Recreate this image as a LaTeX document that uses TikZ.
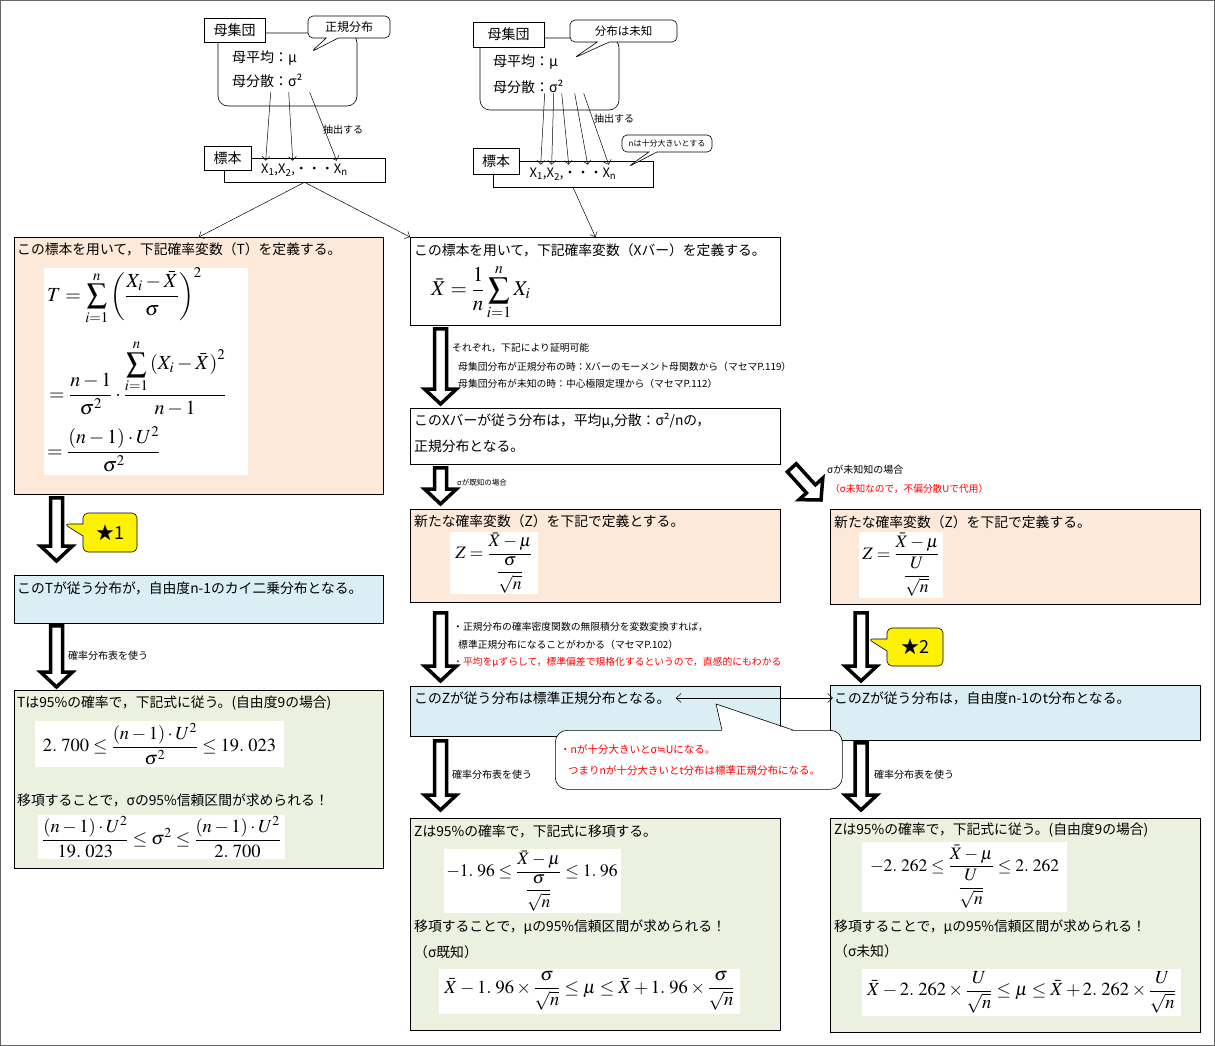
\documentclass[tikz,border=0pt]{standalone}
\usepackage{amsmath}
\usepackage{mathptmx}
\usepackage[no-math]{fontspec}
\setmainfont{Noto Sans CJK JP}
\newfontfamily\symfont{DejaVu Sans}
\usetikzlibrary{calc,arrows.meta,shapes.callouts}

\definecolor{BoxPeach}{HTML}{FDE9D9}
\definecolor{BoxBlue}{HTML}{DAEEF3}
\definecolor{BoxGreen}{HTML}{EBF1DE}
\definecolor{NoteRed}{HTML}{FF0000}
\newcommand{\fsz}[1]{\fontsize{#1}{#1}\selectfont}

\begin{document}
\begin{tikzpicture}[x=1pt,y=-1pt]
\useasboundingbox (0,0) rectangle (1215,1046);
\draw[black!60, line width=0.8pt] (0.5,0.5) rectangle (1214.5,1045.5);

\tikzset{PopStyle/.style = {draw, rounded corners=10pt, line width=0.6pt, align=left,
   inner ysep=0pt, font=\fontsize{14}{24}\selectfont},
 LabelStyle/.style = {draw, fill=white, line width=0.6pt, inner sep=0pt, font=\fsz{14}},
 SampleStyle/.style = {draw, fill=white, line width=0.6pt, inner sep=0pt, font=\fsz{13}},
 SayStyle/.style = {rectangle callout, draw, fill=white, rounded corners=5pt,
   line width=0.6pt, inner sep=0pt, callout pointer width=12pt},
 ThinArrow/.style = {-{Straight Barb[length=4pt,width=8pt]}, line width=0.5pt} }

% population and sample, left
\node[PopStyle, minimum width=139pt, minimum height=73pt, text width=111pt, inner xsep=14pt] (PopL) at (287.5,69.5) {母平均：μ\\母分散：σ²};
\node[SayStyle, minimum width=82pt, minimum height=22pt, font=\fsz{12},
  callout absolute pointer={(311,52)}] (SayL) at (349,27) {正規分布};
\node[LabelStyle, minimum width=61pt, minimum height=24pt] (LabL) at (234.5,30) {母集団};
\node[SampleStyle, minimum width=161pt, minimum height=24pt] (SmpL) at (304.5,170) {X\textsubscript{1},X\textsubscript{2},・・・X\textsubscript{n}};
\node[LabelStyle, minimum width=47pt, minimum height=24pt] (SmpLabL) at (227.5,158) {標本};
\foreach \a/\b in {53/42, 71/69, 92/113}
  \draw[ThinArrow] ($(PopL.south west)+(\a,-14)$) -- ($(SmpL.north west)+(\b,3)$);
\node[anchor=west, inner sep=0pt, font=\fsz{10}] (ExtL) at (323,130) {抽出する};

% population and sample, right
\node[PopStyle, minimum width=139pt, minimum height=72pt, text width=113pt, inner xsep=13pt,
  font=\fontsize{14}{26}\selectfont] (PopR) at (549.5,74) {母平均：μ\\母分散：σ²};
\node[SayStyle, minimum width=107pt, minimum height=22pt, font=\fsz{11.5},
  callout absolute pointer={(574,58)}] (SayR) at (623.5,31) {分布は未知};
\node[LabelStyle, minimum width=71pt, minimum height=25pt] (LabR) at (508.5,34.5) {母集団};
\node[SampleStyle, minimum width=160pt, minimum height=26pt] (SmpR) at (573,174) {X\textsubscript{1},X\textsubscript{2},・・・X\textsubscript{n}};
\node[LabelStyle, minimum width=46pt, minimum height=26pt] (SmpLabR) at (496,161) {標本};
\foreach \a/\b in {65/48, 74/59, 82/76, 95/95, 104/116}
  \draw[ThinArrow] ($(PopR.south west)+(\a,-17)$) -- ($(SmpR.north west)+(\b,4)$);
\node[anchor=west, inner sep=0pt, font=\fsz{10}] (ExtR) at (594,119) {抽出する};
\node[SayStyle, minimum width=90pt, minimum height=17pt, font=\fsz{8}, callout pointer width=8pt,
  callout absolute pointer={(628,167)}] (SayN) at (667,143.5) {nは十分大きいとする};

% boxes
\tikzset{BoxStyle/.style = {draw, line width=0.8pt, anchor=north west, inner sep=0pt},
 TextStyle/.style = {anchor=west, inner sep=0pt, font=\fsz{13.8}},
 NoteStyle/.style = {anchor=west, inner sep=0pt, font=\fsz{9.8}},
 MathStyle/.style = {fill=white, inner sep=0pt, font=\fsz{18.5}} }

\node[BoxStyle, fill=BoxPeach, minimum width=369pt, minimum height=257pt] (BoxT) at (14,237) {};
\node[BoxStyle, fill=BoxBlue, minimum width=369pt, minimum height=48pt] (BoxChi) at (14,575) {};
\node[BoxStyle, fill=BoxGreen, minimum width=369pt, minimum height=178pt] (BoxL95) at (14,690) {};
\node[BoxStyle, fill=white, minimum width=370pt, minimum height=88pt] (BoxX) at (410,237) {};
\node[BoxStyle, fill=white, minimum width=370pt, minimum height=56pt] (BoxXd) at (410,408) {};
\node[BoxStyle, fill=BoxPeach, minimum width=370pt, minimum height=93pt] (BoxZ1) at (410,509) {};
\node[BoxStyle, fill=BoxBlue, minimum width=370pt, minimum height=50pt] (BoxZn) at (410,686) {};
\node[BoxStyle, fill=BoxGreen, minimum width=370pt, minimum height=212pt] (BoxM95) at (410,818) {};
\node[BoxStyle, fill=BoxPeach, minimum width=370pt, minimum height=95pt] (BoxZ2) at (830,509) {};
\node[BoxStyle, fill=BoxBlue, minimum width=370pt, minimum height=55pt] (BoxTd) at (830,685) {};
\node[BoxStyle, fill=BoxGreen, minimum width=370pt, minimum height=214pt] (BoxR95) at (830,818) {};

\draw[ThinArrow] (SmpL.south) -- (BoxT.north);
\draw[ThinArrow] (SmpL.south) -- (BoxX.north west);
\draw[ThinArrow] (SmpR.south) -- (BoxX.north);

% left column
\node[TextStyle] (TT) at (17,249) {この標本を用いて，下記確率変数（T）を定義する。};
\node[MathStyle, minimum width=204pt, minimum height=207pt, anchor=north west] (FTbg) at (44,268) {};
\node[anchor=west, inner sep=0pt, font=\fsz{20}] (FT1) at (47,296) {$\displaystyle T=\sum_{i=1}^{n}\left(\frac{X_i-\bar{X}}{\sigma}\right)^{2}$};
\node[anchor=west, inner sep=0pt, font=\fsz{20}] (FT2) at (49,378) {$\displaystyle =\frac{n-1}{\sigma^{2}}\cdot\frac{\displaystyle\sum_{i=1}^{n}\left(X_i-\bar{X}\right)^{2}}{n-1}$};
\node[anchor=west, inner sep=0pt, font=\fsz{20}] (FT3) at (47,449) {$\displaystyle =\frac{(n-1)\cdot U^{2}}{\sigma^{2}}$};
\node[TextStyle] (TChi) at (17,588) {このTが従う分布が，自由度n-1のカイ二乗分布となる。};
\node[TextStyle] (TL95a) at (17,703) {Tは95\%の確率で，下記式に従う。(自由度9の場合)};
\node[MathStyle, minimum width=249pt, minimum height=46pt] (FL1) at (159.5,744) {$\displaystyle 2.\;700\le\frac{(n-1)\cdot U^{2}}{\sigma^{2}}\le 19.\;023$};
\node[TextStyle] (TL95b) at (17,800) {移項することで，σの95\%信頼区間が求められる！};
\node[MathStyle, minimum width=247pt, minimum height=44pt] (FL2) at (161.5,837) {$\displaystyle \frac{(n-1)\cdot U^{2}}{19.\;023}\le\sigma^{2}\le\frac{(n-1)\cdot U^{2}}{2.\;700}$};
\node[NoteStyle, font=\fsz{10}] (TblL) at (68,656) {確率分布表を使う};

% middle column
\node[TextStyle] (TX) at (414,250) {この標本を用いて，下記確率変数（Xバー）を定義する。};
\node[anchor=west, inner sep=0pt, font=\fsz{21}] (FX) at (431,292) {$\displaystyle \bar{X}=\frac{1}{n}\sum_{i=1}^{n}X_i$};
\node[NoteStyle] (NoteA1) at (452,348) {それぞれ，下記により証明可能};
\node[NoteStyle] (NoteA2) at (458,367) {母集団分布が正規分布の時：Xバーのモーメント母関数から（マセマP.119）};
\node[NoteStyle] (NoteA3) at (458,384) {母集団分布が未知の時：中心極限定理から（マセマP.112）};
\node[TextStyle] (TXd1) at (414,421) {このXバーが従う分布は，平均μ,分散：σ²/nの，};
\node[TextStyle] (TXd2) at (414,446) {正規分布となる。};
\node[NoteStyle, font=\fsz{7.5}] (NoteB) at (457,483) {σが既知の場合};
\node[TextStyle] (TZ1) at (414,521) {新たな確率変数（Z）を下記で定義とする。};
\node[MathStyle, minimum width=88pt, minimum height=62pt, font=\fsz{17.5}] (FZ1) at (494,563) {$\displaystyle Z=\frac{\bar{X}-\mu}{\dfrac{\sigma}{\sqrt{n}}}$};
\node[NoteStyle] (NoteC1) at (453,627) {・正規分布の確率密度関数の無限積分を変数変換すれば，};
\node[NoteStyle] (NoteC2) at (458,645) {標準正規分布になることがわかる（マセマP.102）};
\node[NoteStyle, text=NoteRed] (NoteC3) at (453,662) {・平均をμずらして，標準偏差で規格化するというので，直感的にもわかる};
\node[TextStyle] (TZn) at (414,698) {このZが従う分布は標準正規分布となる。};
\node[NoteStyle, font=\fsz{10}] (TblM) at (452,775) {確率分布表を使う};
\node[TextStyle] (TM95a) at (414,831) {Zは95\%の確率で，下記式に移項する。};
\node[MathStyle, minimum width=177pt, minimum height=64pt, font=\fsz{17.5}] (FM1) at (532,881) {$\displaystyle -1.\;96\le\frac{\bar{X}-\mu}{\dfrac{\sigma}{\sqrt{n}}}\le 1.\;96$};
\node[TextStyle] (TM95b) at (414,927) {移項することで，μの95\%信頼区間が求められる！};
\node[TextStyle] (TM95c) at (414,952) {（σ既知）};
\node[MathStyle, minimum width=301pt, minimum height=45pt] (FM2) at (589.5,991) {$\displaystyle \bar{X}-1.\;96\times\frac{\sigma}{\sqrt{n}}\le\mu\le\bar{X}+1.\;96\times\frac{\sigma}{\sqrt{n}}$};

% right column
\node[NoteStyle, font=\fsz{10}] (NoteD1) at (827,470) {σが未知知の場合};
\node[NoteStyle, text=NoteRed, font=\fsz{9.7}] (NoteD2) at (830,489) {（σ未知なので，不偏分散Uで代用）};
\node[TextStyle] (TZ2) at (834,522) {新たな確率変数（Z）を下記で定義する。};
\node[MathStyle, minimum width=84pt, minimum height=66pt, font=\fsz{17.5}] (FZ2) at (901,565) {$\displaystyle Z=\frac{\bar{X}-\mu}{\dfrac{U}{\sqrt{n}}}$};
\node[TextStyle] (TTd) at (834,698) {このZが従う分布は，自由度n-1のt分布となる。};
\node[NoteStyle, font=\fsz{10}] (TblR) at (874,775) {確率分布表を使う};
\node[TextStyle] (TR95a) at (834,830) {Zは95\%の確率で，下記式に従う。(自由度9の場合)};
\node[MathStyle, minimum width=205pt, minimum height=70pt, font=\fsz{17.5}] (FR1) at (964.5,877) {$\displaystyle -2.\;262\le\frac{\bar{X}-\mu}{\dfrac{U}{\sqrt{n}}}\le 2.\;262$};
\node[TextStyle] (TR95b) at (834,927) {移項することで，μの95\%信頼区間が求められる！};
\node[TextStyle] (TR95c) at (834,951) {（σ未知）};
\node[MathStyle, minimum width=319pt, minimum height=47pt] (FR2) at (1021.5,992) {$\displaystyle \bar{X}-2.\;262\times\frac{U}{\sqrt{n}}\le\mu\le\bar{X}+2.\;262\times\frac{U}{\sqrt{n}}$};

% hollow arrows
\tikzset{HollowStyle/.style = {draw=black, fill=white, line width=3.5pt, line join=miter,
 to path={($(\tikztostart)!6pt!90:(\tikztotarget)$)
  -- ($(\tikztotarget)!15pt!(\tikztostart)!6pt!-90:(\tikztostart)$)
  -- ($(\tikztotarget)!15pt!(\tikztostart)!16pt!-90:(\tikztostart)$)
  -- (\tikztotarget)
  -- ($(\tikztotarget)!15pt!(\tikztostart)!16pt!90:(\tikztostart)$)
  -- ($(\tikztotarget)!15pt!(\tikztostart)!6pt!90:(\tikztostart)$)
  -- ($(\tikztostart)!6pt!-90:(\tikztotarget)$) -- cycle}} }

\coordinate (A1s) at ($(BoxT.south west)+(42.5,3)$);
\coordinate (A1e) at ($(BoxChi.north west)+(42.5,-14)$);
\coordinate (A2s) at ($(BoxChi.south west)+(42.5,2)$);
\coordinate (A2e) at ($(BoxL95.north west)+(42.5,-3)$);
\coordinate (M1s) at ($(BoxX.south west)+(30.5,3)$);
\coordinate (M1e) at ($(BoxXd.north west)+(30.5,-4)$);
\coordinate (M2s) at ($(BoxXd.south west)+(30.5,3)$);
\coordinate (M2e) at ($(BoxZ1.north west)+(30.5,-5)$);
\coordinate (M3s) at ($(BoxZ1.south west)+(30.5,10)$);
\coordinate (M3e) at ($(BoxZn.north west)+(30.5,-5)$);
\coordinate (M4s) at ($(BoxZn.south west)+(30.5,4)$);
\coordinate (M4e) at ($(BoxM95.north west)+(30.5,-8)$);
\coordinate (R1s) at ($(BoxZ2.south west)+(31,8)$);
\coordinate (R1e) at ($(BoxTd.north west)+(31,-4)$);
\coordinate (R2s) at ($(BoxTd.south west)+(31,2)$);
\coordinate (R2e) at ($(BoxR95.north west)+(31,-8)$);
\coordinate (Ds) at ($(BoxXd.south east)+(11,3)$);
\coordinate (De) at ($(BoxZ2.north west)+(-9,-9)$);

\foreach \s/\e in {A1s/A1e, A2s/A2e, M1s/M1e, M2s/M2e, M3s/M3e, M4s/M4e, R1s/R1e, R2s/R2e, Ds/De}
  \draw[HollowStyle] (\s) to (\e);

% star callouts
\tikzset{StarStyle/.style = {rectangle callout, draw, fill=yellow, rounded corners=5pt,
  line width=0.6pt, inner sep=0pt, callout pointer width=12pt, font=\fsz{18}} }
\node[StarStyle, minimum width=54pt, minimum height=39pt, callout absolute pointer={(64,524)}] (Star1) at (110,532.5) {★1};
\node[StarStyle, minimum width=56pt, minimum height=38pt, callout absolute pointer={(868,639)}] (Star2) at (915,647) {★2};

% link between the two distributions
\draw[{Straight Barb[length=5pt,width=9pt]}-{Straight Barb[length=5pt,width=9pt]}, line width=0.5pt, shorten <=5pt, shorten >=1pt] (TZn.east) -- (TTd.west);

% note on large n
\node[BoxStyle, fill=white, rounded corners=12pt, line width=0.6pt, minimum width=287pt, minimum height=59pt] (NoteBox) at (555,730) {};
\coordinate (NA) at ($(NoteBox.north west)+(167,0)$);
\coordinate (NB) at ($(NoteBox.north west)+(238,0)$);
\coordinate (NT) at ($(NoteBox.north west)+(161,-26)$);
\fill[white] ($(NA)+(0,1)$) -- (NT) -- ($(NB)+(0,1)$) -- cycle;
\draw[line width=0.6pt] (NA) -- (NT) -- (NB);
\node[NoteStyle, text=NoteRed, font=\fsz{10.5}] (TN1) at (560,749) {・nが十分大きいとσ{\symfont ≒}Uになる。};
\node[NoteStyle, text=NoteRed, font=\fsz{10.5}] (TN2) at (568,770) {つまりnが十分大きいとt分布は標準正規分布になる。};

\end{tikzpicture}
\end{document}
